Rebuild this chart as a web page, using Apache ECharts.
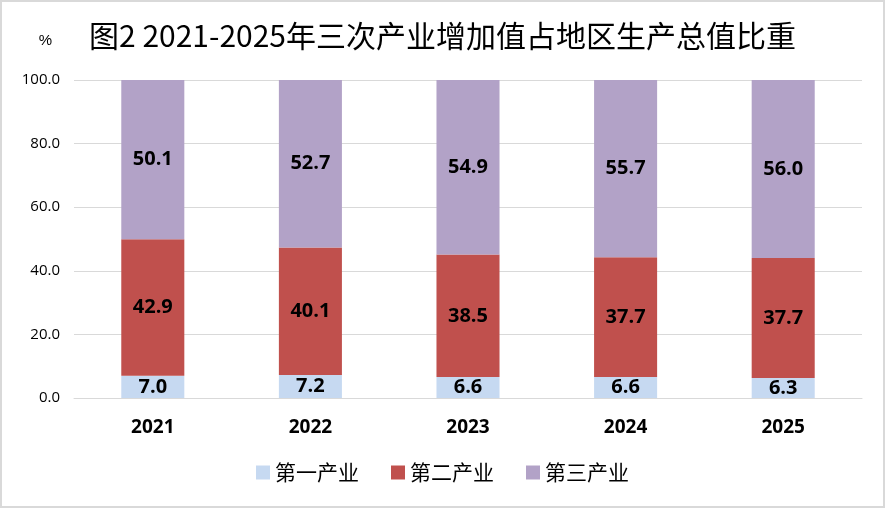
<!DOCTYPE html>
<html>
<head>
<meta charset="utf-8">
<script src="https://cdn.jsdelivr.net/npm/echarts@6/dist/echarts.min.js"></script>
<style>
	html, body { margin: 0; padding: 0; background: #fff; }
	#chart { width: 881px; height: 504px; border: 2px solid #d9d9d9; }
</style>
</head>
<body>
<div id="chart"></div>
<script>
const years = ['2021', '2022', '2023', '2024', '2025'];
const primary = [7.0, 7.2, 6.6, 6.6, 6.3];
const secondary = [42.9, 40.1, 38.5, 37.7, 37.7];
const tertiary = [50.1, 52.7, 54.9, 55.7, 56.0];
const seriesNames = ['第一产业', '第二产业', '第三产业'];
const colors = ['#c6d9f1', '#c0504d', '#b2a2c7'];

const cjk = '"Noto Sans CJK SC", "Noto Sans", sans-serif';
const latin = '"Open Sans", "Noto Sans", sans-serif';

function barSeries(name, data, color) {
	return {
		name: name,
		type: 'bar',
		stack: 'total',
		data: data,
		barWidth: '40%',
		itemStyle: { color: color },
		label: {
			show: true,
			position: 'inside',
			formatter: p => p.value.toFixed(1),
			color: '#000',
			fontWeight: 'bold',
			fontSize: 20,
			fontFamily: latin
		}
	};
}

const chart = echarts.init(document.getElementById('chart'));
chart.setOption({
	animation: false,
	title: {
		text: '图2 2021-2025年三次产业增加值占地区生产总值比重',
		left: 'center',
		top: 14,
		textStyle: { fontFamily: cjk, fontSize: 30, fontWeight: 'normal', color: '#000' }
	},
	legend: {
		bottom: 18,
		itemWidth: 14,
		itemHeight: 14,
		itemGap: 32,
		icon: 'rect',
		textStyle: { fontFamily: cjk, fontSize: 21, color: '#000' },
		data: seriesNames
	},
	grid: { left: 72, right: 21, top: 78, bottom: 108 },
	xAxis: {
		type: 'category',
		data: years,
		axisTick: { show: false },
		axisLine: { lineStyle: { color: '#d9d9d9' } },
		axisLabel: {
			color: '#000', fontWeight: 'bold', fontSize: 19, margin: 20,
			fontFamily: latin
		}
	},
	yAxis: {
		type: 'value',
		min: 0,
		max: 100,
		interval: 20,
		name: '%',
		nameLocation: 'end',
		nameGap: 32,
		nameTextStyle: { color: '#000', fontSize: 15, align: 'right', padding: [0, 22, 0, 0] },
		axisLabel: {
			formatter: v => v.toFixed(1),
			color: '#000', fontSize: 15, margin: 14,
			fontFamily: latin
		},
		splitLine: { lineStyle: { color: '#d9d9d9' } }
	},
	series: [
		barSeries(seriesNames[0], primary, colors[0]),
		barSeries(seriesNames[1], secondary, colors[1]),
		barSeries(seriesNames[2], tertiary, colors[2])
	]
});
</script>
</body>
</html>
